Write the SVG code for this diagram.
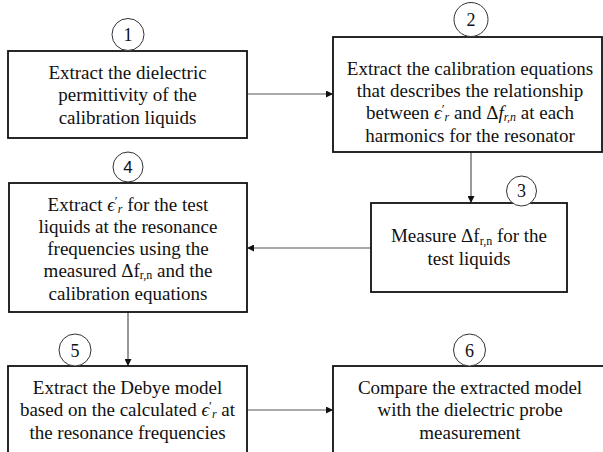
<svg xmlns="http://www.w3.org/2000/svg" width="603" height="452" viewBox="0 0 603 452">
<style>
.box{fill:#fff;stroke:#111;stroke-width:1.8}
.num{fill:#fff;stroke:#333;stroke-width:1}
.t{font-family:'Liberation Serif','DejaVu Serif',serif;font-size:19px;fill:#111;text-anchor:middle}
.n{font-family:'Liberation Serif','DejaVu Serif',serif;font-size:18px;fill:#111;text-anchor:middle}
.ns{font-family:'Liberation Sans',Arial,sans-serif;font-size:17px;fill:#111;text-anchor:middle}
.c{stroke:#555;stroke-width:1.2;fill:none;marker-end:url(#ah)}
.it{font-style:italic}
.sub{font-size:13px}
.sb{font-size:12px}
</style>
<defs>
<marker id="ah" markerUnits="userSpaceOnUse" markerWidth="7" markerHeight="7" refX="7" refY="3.5" orient="auto">
<path d="M0,0 L7,3.5 L0,7 z" fill="#111"/>
</marker>
</defs>
<rect width="603" height="452" fill="#fff"/>
<g id="connectors">
<line class="c" x1="247" y1="94" x2="333" y2="94"/>
<line class="c" x1="471" y1="152" x2="471" y2="203"/>
<line class="c" x1="371" y1="248" x2="247" y2="248"/>
<line class="c" x1="128" y1="312" x2="128" y2="366"/>
<line class="c" x1="247" y1="410" x2="333" y2="410"/>
</g>
<g id="node1">
<rect class="box" x="8" y="51" width="239" height="87"/>
<text class="t" x="127.5" y="79">Extract the dielectric</text>
<text class="t" x="127.5" y="101">permittivity of the</text>
<text class="t" x="127.5" y="124">calibration liquids</text>
<circle class="num" cx="128" cy="34.5" r="16"/>
<text class="n" x="128" y="41">1</text>
</g>
<g id="node2">
<rect class="box" x="333" y="37" width="269" height="115"/>
<text class="t" x="470" y="75">Extract the calibration equations</text>
<text class="t" x="470" y="97">that describes the relationship</text>
<text class="t" x="470" y="119">between <tspan class="it">ϵ</tspan><tspan class="sub" dy="-6">′</tspan><tspan class="sb it" dy="8">r</tspan><tspan dy="-2"> and Δ</tspan><tspan class="it">f</tspan><tspan class="sb it" dy="2">r,n</tspan><tspan dy="-2"> at each</tspan></text>
<text class="t" x="470" y="142">harmonics for the resonator</text>
<circle class="num" cx="471" cy="19.5" r="17"/>
<text class="n" x="471" y="26">2</text>
</g>
<g id="node3">
<rect class="box" x="371" y="203" width="196" height="89"/>
<text class="t" x="469" y="242">Measure Δf<tspan class="sb" dy="3">r,n</tspan><tspan dy="-3"> for the</tspan></text>
<text class="t" x="469" y="265">test liquids</text>
<circle class="num" cx="521.5" cy="191" r="15"/>
<text class="n" x="521.5" y="197">3</text>
</g>
<g id="node4">
<rect class="box" x="9" y="183" width="238" height="129"/>
<text class="t" x="128" y="211">Extract <tspan class="it">ϵ</tspan><tspan class="sub" dy="-6">′</tspan><tspan class="sb it" dy="8">r</tspan><tspan dy="-2"> for the test</tspan></text>
<text class="t" x="128" y="233">liquids at the resonance</text>
<text class="t" x="128" y="255">frequencies using the</text>
<text class="t" x="128" y="277">measured Δf<tspan class="sb" dy="2">r,n</tspan><tspan dy="-2"> and the</tspan></text>
<text class="t" x="128" y="300">calibration equations</text>
<circle class="num" cx="128" cy="167" r="15"/>
<text class="ns" x="128" y="173">4</text>
</g>
<g id="node5">
<rect class="box" x="8" y="366" width="239" height="90"/>
<text class="t" x="127.5" y="394">Extract the Debye model</text>
<text class="t" x="127.5" y="416">based on the calculated <tspan class="it">ϵ</tspan><tspan class="sub" dy="-6">′</tspan><tspan class="sb it" dy="8">r</tspan><tspan dy="-2"> at</tspan></text>
<text class="t" x="127.5" y="439">the resonance frequencies</text>
<circle class="num" cx="75" cy="350" r="16"/>
<text class="n" x="75" y="356.5">5</text>
</g>
<g id="node6">
<rect class="box" x="333" y="366" width="280" height="90"/>
<text class="t" x="470" y="394">Compare the extracted model</text>
<text class="t" x="470" y="416">with the dielectric probe</text>
<text class="t" x="470" y="439">measurement</text>
<circle class="num" cx="469.5" cy="350" r="16"/>
<text class="n" x="469.5" y="356.5">6</text>
</g>
</svg>
